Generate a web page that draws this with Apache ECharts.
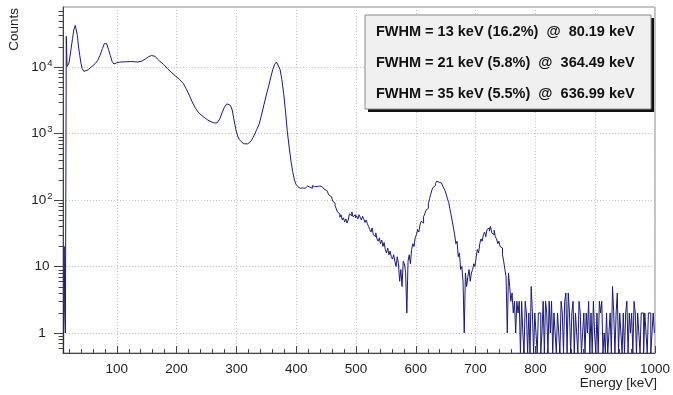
<!DOCTYPE html>
<html>
<head>
<meta charset="utf-8">
<script src="https://cdn.jsdelivr.net/npm/echarts@6/dist/echarts.min.js"></script>
<style>
html,body{margin:0;padding:0;background:#fff;}
#chart{width:673px;height:395px;}
</style>
</head>
<body>
<div id="chart"></div>
<script>
// ---- data ----
// smooth part (energy in keV, counts)
const smoothE = [11,12,13,14,15,15.5,16.3,16.8,18.5,20,23,26,28,30.5,32,34,36,38,40,42,45,48,52,56,60,64,68,72,76,79,81,83,86,89,92,95,99,105,115,125,135,142,148,153,158,161,164,168,172,178,185,192,199,205,211,216,221,226,231,236,241,246,252,258,263,268,272,276,280,284,287,290,293,296,299,302,305,309,313,316,319,322,325,328,331,334,338,342,346,350,354,358,361,364,367,370,373,376,379,382,385,388,391,394,397,400];
const smoothC = [0,20,2,1,1,29000,29000,10200,10400,11500,17500,27000,36000,42300,40000,30000,20000,15000,11500,9500,8600,8700,9100,9800,10500,11300,12600,15000,19000,22500,23400,22500,18500,15000,12200,11100,11500,11900,12000,12100,11900,12300,13300,14300,14900,15000,14500,13200,12200,11000,9400,8200,7200,6500,5700,4700,3800,3000,2450,2100,1900,1750,1600,1500,1440,1450,1650,2050,2500,2800,2870,2650,2250,1600,1150,920,810,740,700,680,700,720,780,880,1000,1150,1380,1900,2700,3800,5200,7300,9300,11000,11900,11300,9200,6500,4000,2200,1100,650,400,270,200,170];

// binned tail: first bin centre and bin width (keV), then counts per bin
const tailFirstBin = 402;
const tailBinWidth = 2;
const tailC = [
  165,158,150,160,152,144,150,158,155,162,
  156,160,150,165,158,168,160,152,162,158,
  160,152,155,145,140,132,128,118,112,106,
  96,90,82,74,66,62,55,60,50,54,
  47,52,45,50,62,58,66,56,60,54,
  58,52,60,55,50,57,52,46,50,44,
  40,36,33,38,30,28,32,26,24,27,
  22,25,20,23,18,16,19,15,17,14,
  13,15,12,10,14,11,6,9,5,12,
  11,8,2,12,15,11,18,22,20,27,
  30,36,33,42,48,45,56,62,70,75,
  88,105,122,142,155,165,178,192,185,195,
  180,172,162,150,138,120,104,92,74,60,
  48,38,30,22,24,14,16,9,10,6,
  1,8,5,7,9,6,8,9,11,10,
  14,18,16,22,26,24,30,33,28,36,
  38,34,40,32,30,35,28,26,22,24,
  20,19,15,12,9,7,1,8,5,3,
  4,2,3,1,3,2,3,0,3,1,
  0,3,2,0,2,0,5,2,0,2,
  1,0,2,2,0,1,3,0,3,2,
  0,3,1,3,0,2,1,0,2,1,
  0,3,2,0,3,4,0,4,2,0,
  2,3,0,2,1,0,3,2,0,1,
  2,0,2,1,3,0,2,0,3,1,
  0,2,0,3,2,3,0,1,0,2,
  0,1,2,0,5,2,0,2,4,0,
  2,1,0,2,0,2,3,0,2,1,
  2,0,3,2,0,2,1,0,2,2,
  0,2,1,0,2,2,0,1,2,1
];

const yTickValues = [1, 10, 100, 1000, 10000];
const yMinorMultipliers = [2, 3, 4, 5, 6, 7, 8, 9];
const fitLines = [
  'FWHM = 13 keV (16.2%)  @  80.19 keV',
  'FWHM = 21 keV (5.8%)  @  364.49 keV',
  'FWHM = 35 keV (5.5%)  @  636.99 keV'
];

// ---- build ----
const X_MIN = 10, X_MAX = 1000, Y_MIN = 0.5, Y_MAX = 80000;
const toY = c => (c <= 0 ? Y_MIN : c);
const smoothData = smoothE.map((e, i) => [e, toY(smoothC[i])]);
const tailData = [[smoothE[smoothE.length - 1], smoothC[smoothC.length - 1]]]
  .concat(tailC.map((c, i) => [tailFirstBin + i * tailBinWidth, toY(c)]));

// minor tick values of the log axis (2..9 x each decade, inside the range)
const minorTickValues = [];
[0.1].concat(yTickValues).forEach(d => yMinorMultipliers.forEach(m => {
  const v = m * d;
  if (v > Y_MIN && v < Y_MAX) minorTickValues.push([X_MIN, v]);
}));

const FONT = '"Liberation Sans", Arial, Helvetica, sans-serif';
const LINE = '#1b1b78';
const AXIS = '#444';

const chart = echarts.init(document.getElementById('chart'), null, {renderer: 'canvas'});
chart.setOption({
  animation: false,
  backgroundColor: '#ffffff',
  grid: {left: 63, right: 16, top: 7, bottom: 42, show: true, borderColor: '#8a8a8a', borderWidth: 1, backgroundColor: 'transparent'},
  xAxis: {
    type: 'value', min: X_MIN, max: X_MAX, splitNumber: 10,
    axisLine: {show: true, lineStyle: {color: AXIS, width: 1}},
    axisTick: {show: true, inside: true, length: 7, lineStyle: {color: AXIS}},
    minorTick: {show: true, splitNumber: 5, length: 4, lineStyle: {color: AXIS}},
    axisLabel: {show: true, showMinLabel: false, color: '#222', fontFamily: FONT, fontSize: 13.5, margin: 9,
      formatter: v => String(Math.round(v))},
    splitLine: {show: true, lineStyle: {color: '#c4c4c4', type: [1, 2], width: 1}}
  },
  yAxis: {
    type: 'log', logBase: 10, min: Y_MIN, max: Y_MAX,
    axisLine: {show: true, lineStyle: {color: AXIS, width: 1}},
    axisTick: {show: true, inside: false, length: 9, lineStyle: {color: AXIS}},
    minorTick: {show: false},
    axisLabel: {
      show: true, showMinLabel: false, showMaxLabel: false, align: 'center', margin: 21,
      color: '#222', fontFamily: FONT, fontSize: 13.5,
      formatter: function (v) {
        const p = Math.round(Math.log10(v));
        if (yTickValues.indexOf(Math.pow(10, p)) < 0) return '';
        if (p === 0) return '1';
        if (p === 1) return '10';
        return '10{sup|' + p + '}';
      },
      rich: {sup: {fontSize: 9.5, fontFamily: FONT, color: '#222', padding: [0, 0, 8, 1]}}
    },
    splitLine: {show: true, lineStyle: {color: '#c4c4c4', type: [1, 2], width: 1}}
  },
  series: [
    {type: 'line', data: smoothData, showSymbol: false, lineStyle: {color: LINE, width: 1}, silent: true, z: 3},
    {type: 'line', data: tailData, step: 'middle', showSymbol: false, lineStyle: {color: LINE, width: 1}, silent: true, z: 3},
    {
      type: 'custom', data: minorTickValues, silent: true, clip: false, z: 4,
      renderItem: function (params, api) {
        const p = api.coord([api.value(0), api.value(1)]);
        const x = Math.round(p[0]) + 0.5, y = Math.round(p[1]) + 0.5;
        return {type: 'line', shape: {x1: x - 5, y1: y, x2: x, y2: y}, style: {stroke: AXIS, lineWidth: 1}};
      }
    }
  ],
  graphic: [
    {type: 'rect', shape: {x: 368, y: 18, width: 286, height: 94}, style: {fill: '#111'}, z: 10},
    {type: 'rect', shape: {x: 365, y: 15, width: 286, height: 94}, style: {fill: '#f0f0f0', stroke: '#8a8a8a', lineWidth: 1}, z: 11},
    {type: 'text', x: 376, y: 32, z: 12, style: {text: fitLines[0], font: 'bold 14.5px ' + FONT, fill: '#111', verticalAlign: 'middle'}},
    {type: 'text', x: 376, y: 62.5, z: 12, style: {text: fitLines[1], font: 'bold 14.5px ' + FONT, fill: '#111', verticalAlign: 'middle'}},
    {type: 'text', x: 376, y: 94, z: 12, style: {text: fitLines[2], font: 'bold 14.5px ' + FONT, fill: '#111', verticalAlign: 'middle'}},
    {type: 'text', x: 14, y: 8, rotation: Math.PI / 2, z: 12, style: {text: 'Counts', font: '13.5px ' + FONT, fill: '#222', align: 'right', verticalAlign: 'middle'}},
    {type: 'text', x: 657, y: 383, z: 12, style: {text: 'Energy [keV]', font: '13.5px ' + FONT, fill: '#222', align: 'right', verticalAlign: 'middle'}}
  ]
});
</script>
</body>
</html>
